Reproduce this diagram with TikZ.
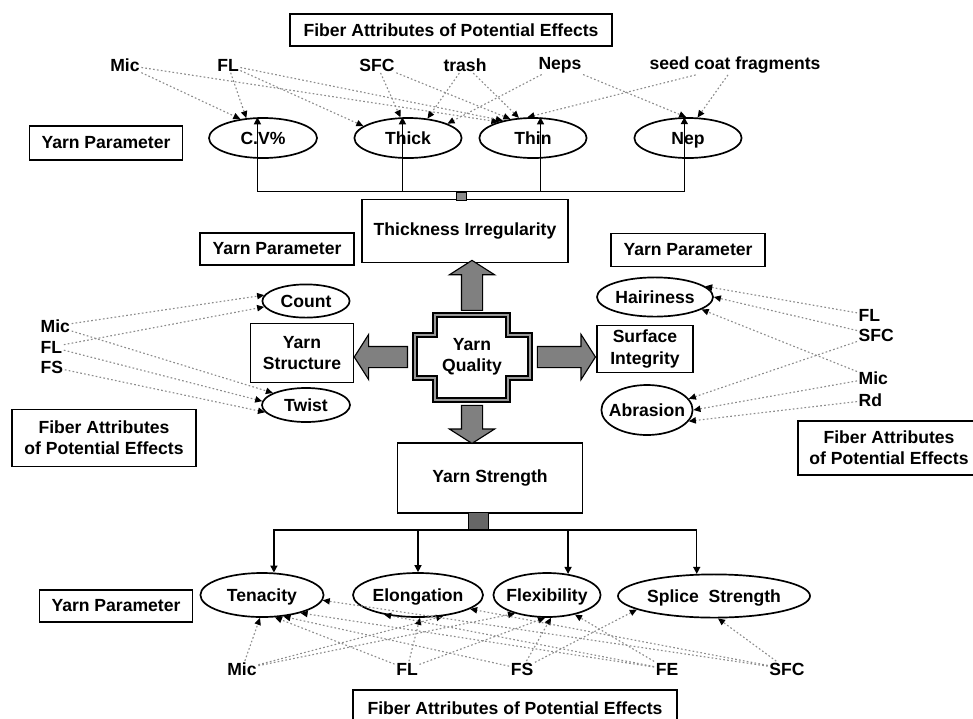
\documentclass[tikz,border=0pt]{standalone}
\usepackage{fontspec}
\setmainfont{Liberation Sans}
\usetikzlibrary{arrows.meta, shapes.geometric, shapes.arrows}
\tikzset{
  yqbox/.style={rectangle, draw, line width=1.1pt, inner sep=0pt, align=center,
                font=\bfseries\fontsize{12.5}{15}\selectfont},
  yqparam/.style={ellipse, draw, line width=1.2pt, inner sep=0pt,
                  text height=10pt, text depth=1pt,
                  font=\bfseries\fontsize{12.5}{15}\selectfont},
  yqattr/.style={inner sep=1pt, font=\bfseries\fontsize{12.5}{15}\selectfont},
  yqlink/.style={draw, line width=1pt, -{Triangle[length=5pt, width=5pt]}},
  yqeffect/.style={draw, black!45, line width=0.8pt, dash pattern=on 1.2pt off 1.6pt,
                   -{Triangle[length=5pt, width=4.5pt, color=black]}},
  yqjoint/.style={rectangle, draw, fill=black!45, inner sep=0pt},
  yqbig/.style={single arrow, draw, fill=black!50, line width=0.8pt,
                inner xsep=0pt, inner ysep=0.25cm, minimum width=1.1cm,
                single arrow head extend=0.3cm, single arrow tip angle=115,
                sloped, allow upside down},
  yqcross/.style={draw, line width=1.1pt, double=black!40, double distance=2pt,
                  fill=white}
}
\begin{document}
\begin{tikzpicture}[x=0.025cm, y=-0.025cm]
  \useasboundingbox (0,0) rectangle (973,718);

  % boxes
  \node[yqbox, minimum width=8.05cm, minimum height=0.8cm] (tattrib) at (451,30)
    {Fiber Attributes of Potential Effects};
  \node[yqbox, minimum width=3.83cm, minimum height=0.85cm] (tparam) at (106,143) {Yarn Parameter};
  \node[yqbox, minimum width=5.15cm, minimum height=1.58cm] (irreg) at (465,231) {Thickness Irregularity};
  \node[yqbox, minimum width=3.85cm, minimum height=0.8cm] (lparam) at (277,249) {Yarn Parameter};
  \node[yqbox, minimum width=3.85cm, minimum height=0.83cm] (rparam) at (688,250) {Yarn Parameter};
  \node[yqbox, minimum width=2.58cm, minimum height=1.48cm] (structure) at (302,353) {Yarn\\Structure};
  \node[yqbox, minimum width=2.4cm, minimum height=1.18cm] (surface) at (645,349) {Surface\\Integrity};
  \node[yqbox, minimum width=4.6cm, minimum height=1.43cm] (lattrib) at (104,438)
    {Fiber Attributes\\of Potential Effects};
  \node[yqbox, minimum width=4.55cm, minimum height=1.35cm] (rattrib) at (889,448)
    {Fiber Attributes\\of Potential Effects};
  \node[yqbox, minimum width=4.63cm, minimum height=1.75cm] (strength) at (490,478) {Yarn Strength};
  \node[yqbox, minimum width=3.83cm, minimum height=0.8cm] (bparam) at (116,606) {Yarn Parameter};
  \node[yqbox, minimum width=8.1cm, minimum height=0.9cm] (battrib) at (515,708)
    {Fiber Attributes of Potential Effects};

  % yarn quality
  \draw[yqcross] (435,315) -- (508,315) -- (508,335) -- (530,335) -- (530,378)
    -- (508,378) -- (508,400) -- (435,400) -- (435,378) -- (415,378) -- (415,335)
    -- (435,335) -- cycle;
  \node[align=center, inner sep=0pt, minimum width=2.88cm, minimum height=2.13cm,
        font=\bfseries\fontsize{12.5}{15}\selectfont] (quality) at (472,357) {Yarn\\Quality};
  \path (quality.north) -- (quality.north |- irreg.south)
    node[midway, yqbig, minimum height=1.25cm] {};
  \path (quality.west) -- (quality.west -| structure.east)
    node[midway, yqbig, minimum height=1.33cm] {};
  \path (quality.east) -- (quality.east -| surface.west)
    node[midway, yqbig, minimum height=1.45cm] {};
  \path (quality.south) -- (quality.south |- strength.north)
    node[midway, yqbig, minimum height=0.95cm] {};

  % yarn parameters
  \node[yqparam, minimum width=2.7cm, minimum height=1cm] (cv) at (263,138) {\makebox[0pt]{C.V\%}};
  \node[yqparam, minimum width=2.68cm, minimum height=1cm] (thick) at (408,138) {\makebox[0pt]{Thick}};
  \node[yqparam, minimum width=2.68cm, minimum height=1cm] (thin) at (533,138) {\makebox[0pt]{Thin}};
  \node[yqparam, minimum width=2.68cm, minimum height=1cm] (nep) at (688,138) {\makebox[0pt]{Nep}};
  \node[yqparam, minimum width=2.18cm, minimum height=0.83cm] (count) at (306,301) {\makebox[0pt]{Count}};
  \node[yqparam, minimum width=2.2cm, minimum height=0.85cm] (twist) at (306,405) {\makebox[0pt]{Twist}};
  \node[yqparam, minimum width=2.9cm, minimum height=0.98cm] (hair) at (655,297) {\makebox[0pt]{Hairiness}};
  \node[yqparam, minimum width=2.28cm, minimum height=1.25cm] (abr) at (647,410) {\makebox[0pt]{Abrasion}};
  \node[yqparam, minimum width=3.08cm, minimum height=1.1cm] (ten) at (262,595) {\makebox[0pt]{Tenacity}};
  \node[yqparam, minimum width=3.25cm, minimum height=1.1cm] (elong) at (418,595) {\makebox[0pt]{Elongation}};
  \node[yqparam, minimum width=2.68cm, minimum height=1.1cm] (flex) at (547,595) {\makebox[0pt]{Flexibility}};
  \node[yqparam, minimum width=4.8cm, minimum height=1.08cm] (splice) at (714,596) {\makebox[0pt]{Splice\ \ Strength}};

  % brackets
  \node[yqjoint, minimum width=0.25cm, minimum height=0.2cm] (tsq) at (461,196) {};
  \foreach \t in {cv.105, thick.105, thin.70, nep.100}
    \draw[yqlink] (tsq.north) -| (\t);
  \node[yqjoint, fill=black!60, minimum width=0.5cm, minimum height=0.43cm] (bsq) at (478,521) {};
  \foreach \t in {ten.62, elong.90, flex.45, splice.128}
    \draw[yqlink] (bsq.south) -| (\t);

  % fiber attributes
  \foreach \name/\pos/\txt in {tmic/125/Mic, tfl/228/FL, tsfc/377/SFC, ttrash/465/trash,
                               tneps/560/Neps, tseed/735/seed coat fragments}
    \node[yqattr] (\name) at (\pos,65) {\txt};
  \foreach \name/\pos/\txt in {lmic/326/Mic, lfl/347/FL, lfs/367/FS}
    \node[yqattr, anchor=west] (\name) at (39,\pos) {\txt};
  \foreach \name/\pos/\txt in {rfl/315/FL, rsfc/335/SFC, rmic/378/Mic, rrd/400/Rd}
    \node[yqattr, anchor=west] (\name) at (857,\pos) {\txt};
  \foreach \name/\pos/\txt in {bmic/242/Mic, bfl/407/FL, bfs/522/FS, bfe/667/FE, bsfc/787/SFC}
    \node[yqattr] (\name) at (\pos,669) {\txt};

  % potential effects
  \foreach \from/\to in {tmic/cv.140, tmic/thin.155, tfl/cv.130, tfl/thick.165,
                         tfl/thin.150, tsfc/thick.110, tsfc/thin.140, ttrash/thick.45,
                         ttrash/thin.125, tneps/thick.20, tneps/nep.95, tseed/thin.105,
                         tseed/nep.65}
    \draw[yqeffect] (\from) -- (\to);
  \foreach \from/\to in {lmic/count.172, lfl/count.188, lmic/twist.160, lfl/twist.175,
                         lfs/twist.190}
    \draw[yqeffect] (\from) -- (\to);
  \foreach \from/\to in {rfl/hair.12, rsfc/hair.0, rmic/hair.-15, rsfc/abr.15,
                         rmic/abr.0, rrd/abr.-15}
    \draw[yqeffect] (\from) -- (\to);
  \foreach \from/\to in {bmic/ten.-95, bmic/elong.-40, bmic/flex.-150, bfl/ten.-60,
                         bfl/elong.-85, bfl/flex.-95, bfs/ten.-45, bfs/flex.-80,
                         bfs/splice.-170, bfe/ten.-25, bfe/elong.-150, bfe/flex.-35,
                         bsfc/ten.-5, bsfc/elong.-15, bsfc/splice.-80}
    \draw[yqeffect] (\from) -- (\to);
\end{tikzpicture}
\end{document}
